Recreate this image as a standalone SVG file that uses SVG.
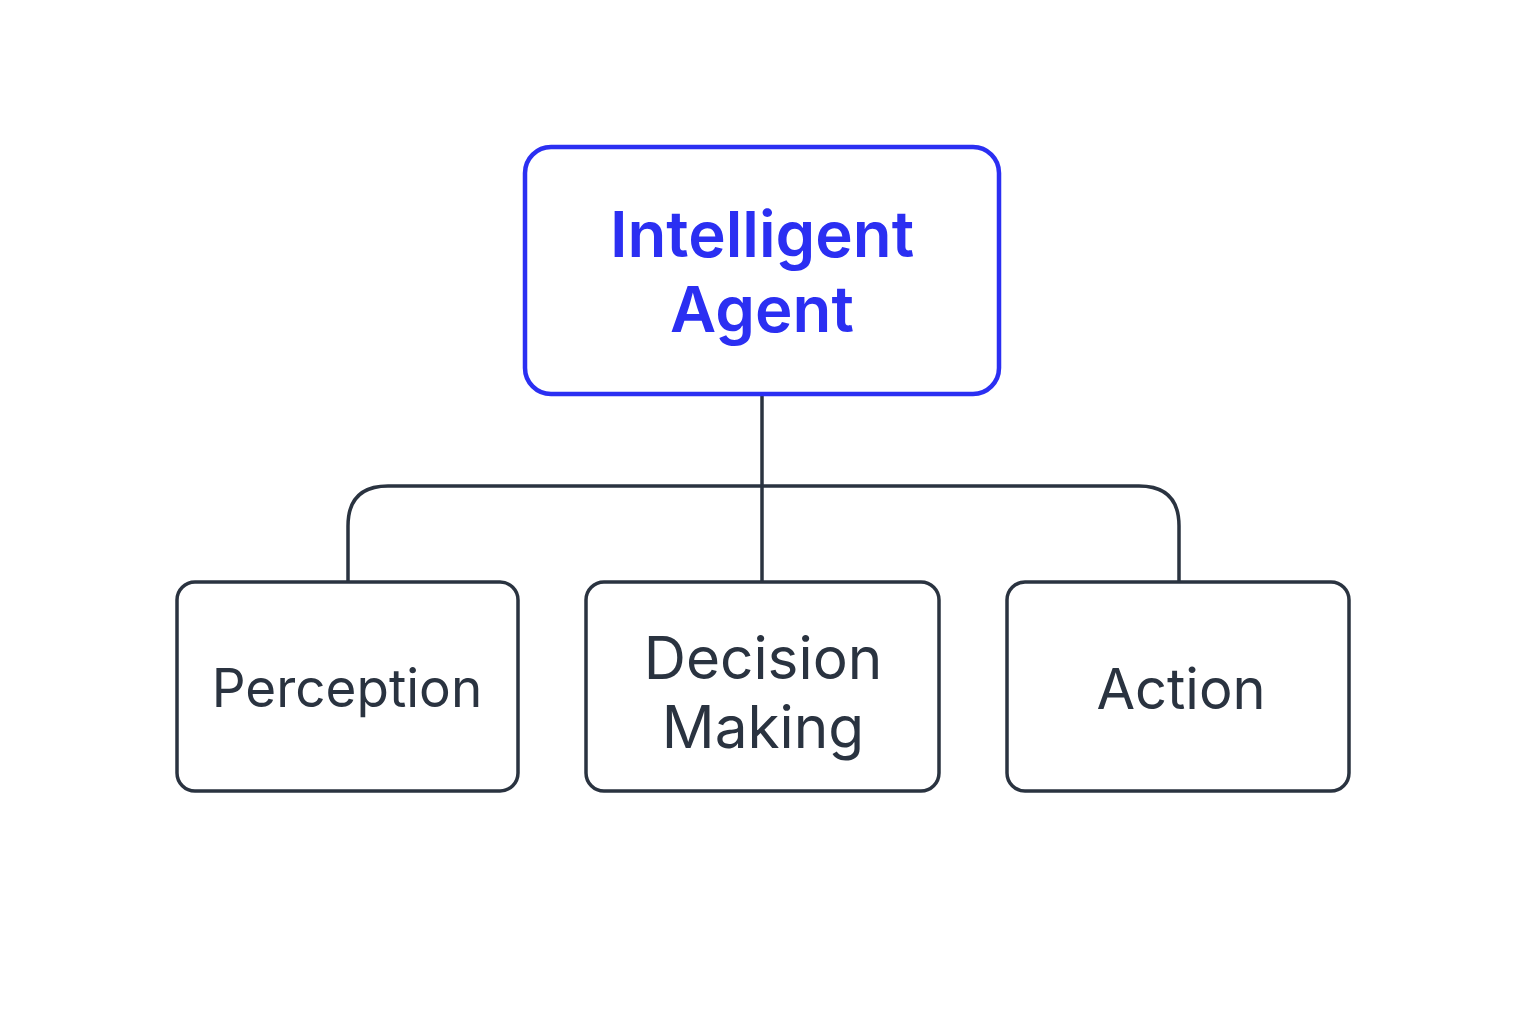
<svg xmlns="http://www.w3.org/2000/svg" width="1536" height="1024" viewBox="0 0 1536 1024">
<style>
.root rect{fill:#fff;stroke:#2b2ff2;stroke-width:4.5}
.root text{font-family:Inter,"Noto Sans",sans-serif;font-weight:600;font-size:63.5px;fill:#2b2ff2;text-anchor:middle}
.child rect{fill:#fff;stroke:#2a3340;stroke-width:3.5}
.child text{font-family:Inter,"Noto Sans",sans-serif;font-weight:400;font-size:56px;fill:#2a3340;text-anchor:middle}
.conn path{fill:none;stroke:#2a3340;stroke-width:3.5}
</style>
<rect width="1536" height="1024" fill="#fff"/>
<g class="conn" id="connectors">
<path d="M762 395 V581"/>
<path d="M348 581 V526 Q348 486 388 486 H1139 Q1179 486 1179 526 V581"/>
</g>
<g class="root" id="intelligent-agent">
<rect x="525" y="147" width="474" height="247" rx="26"/>
<text x="762" y="257">Intelligent</text>
<text x="762" y="332">Agent</text>
</g>
<g class="child" id="perception">
<rect x="177" y="582" width="341" height="209" rx="18"/>
<text x="347" y="707" style="font-size:53px">Perception</text>
</g>
<g class="child" id="decision-making">
<rect x="586" y="582" width="353" height="209" rx="18"/>
<text x="763" y="679" style="font-size:58.5px">Decision</text>
<text x="763" y="748" style="font-size:58.5px">Making</text>
</g>
<g class="child" id="action">
<rect x="1007" y="582" width="342" height="209" rx="18"/>
<text x="1181" y="709">Action</text>
</g>
</svg>
